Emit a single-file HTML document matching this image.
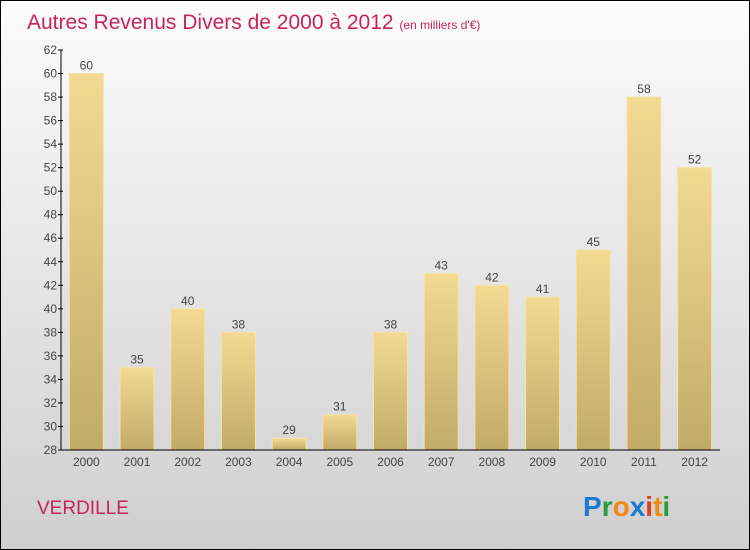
<!DOCTYPE html>
<html><head><meta charset="utf-8"><style>
body{margin:0}
svg{display:block;font-family:"Liberation Sans",sans-serif}
</style></head><body>
<svg width="750" height="550" viewBox="0 0 750 550">
<defs>
<linearGradient id="bg" x1="0" y1="0" x2="0" y2="1"><stop offset="0" stop-color="#fcfcfc"/><stop offset="1" stop-color="#cfcfcf"/></linearGradient>
<linearGradient id="bar" x1="0" y1="0" x2="0" y2="1"><stop offset="0" stop-color="#f3da93"/><stop offset="1" stop-color="#c2aa68"/></linearGradient>
</defs>
<rect x="0.5" y="0.5" width="749" height="549" fill="url(#bg)" stroke="#000"/>
<text x="27" y="29" font-size="21" fill="#c8245a">Autres Revenus Divers de 2000 à 2012 <tspan font-size="12">(en milliers d'€)</tspan></text>
<g id="plot"></g>
<text x="37" y="514" font-size="19" fill="#c8245a">VERDILLE</text>
<text x="583" y="516" font-size="28" font-weight="bold"><tspan fill="#1a7ad0">P</tspan><tspan fill="#2a9a3a">r</tspan><tspan fill="#f08a10">o</tspan><tspan fill="#1a7ad0">x</tspan><tspan fill="#e0401a">i</tspan><tspan fill="#f08a10">t</tspan><tspan fill="#2a9a3a">i</tspan></text>
</svg>
<script>
const categories=["2000","2001","2002","2003","2004","2005","2006","2007","2008","2009","2010","2011","2012"];
const values=[60,35,40,38,29,31,38,43,42,41,45,58,52];
const yTicks=[28,30,32,34,36,38,40,42,44,46,48,50,52,54,56,58,60,62];
const NS="http://www.w3.org/2000/svg";
const g=document.getElementById('plot');
const x0=61,x1=720,yMin=28,yMax=62,yTop=50,yBot=450;
const band=(x1-x0)/categories.length;
function y(v){return yBot-(v-yMin)/(yMax-yMin)*(yBot-yTop);}
function xc(i){return x0+band*(i+0.5);}
function mk(t,a){const e=document.createElementNS(NS,t);for(const k in a)e.setAttribute(k,a[k]);g.appendChild(e);return e;}
values.forEach((v,i)=>{
 const r=mk('rect',{x:xc(i)-17,y:y(v),width:34,height:yBot-y(v),fill:'url(#bar)',stroke:'#f5e3a8','stroke-width':1});
 
 
 const t=mk('text',{x:xc(i),y:y(v)-4,'text-anchor':'middle','font-size':12,fill:'#444'});
 t.textContent=v;
 
 
 const c=mk('text',{x:xc(i),y:466,'text-anchor':'middle','font-size':12,fill:'#444'});
 c.textContent=categories[i];
 
 
});
yTicks.forEach(v=>{
 const l=mk('line',{x1:x0-3,x2:x0+2,y1:y(v),y2:y(v),stroke:'#000'});
 
 
 const t=mk('text',{x:x0-4,y:y(v)+4,'text-anchor':'end','font-size':12,fill:'#444'});
 t.textContent=v;
 
 
});
const ya=mk('line',{x1:x0,x2:x0,y1:yTop,y2:yBot,stroke:'#000'});


const xa=mk('line',{x1:x0,x2:x1,y1:yBot,y2:yBot,stroke:'#000'});


</script>
</body></html>
